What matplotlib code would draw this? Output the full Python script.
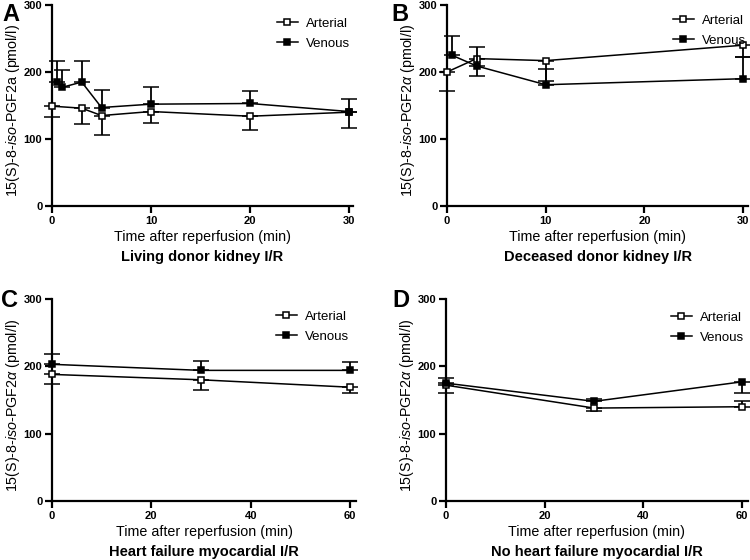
import matplotlib
matplotlib.use("Agg")
import matplotlib.pyplot as plt
from matplotlib.lines import Line2D

plt.rcParams['font.family'] = ['Liberation Sans', 'DejaVu Sans']
plt.rcParams['mathtext.fontset'] = 'custom'
plt.rcParams['mathtext.rm'] = 'Liberation Sans'
plt.rcParams['mathtext.it'] = 'Liberation Sans:italic'
plt.rcParams['mathtext.bf'] = 'Liberation Sans:bold'

# ---- Data ----
# Panel A: Living donor kidney I/R
a_art_x = [0, 3, 5, 10, 20, 30]
a_art_y = [149, 146, 135, 141, 134, 140]
a_art_lo = [16, 24, 29, 17, 21, 23]
a_art_hi = [0, 0, 0, 0, 0, 0]
a_ven_x = [0.5, 1, 3, 5, 10, 20, 30]
a_ven_y = [185, 177, 185, 147, 152, 153, 141]
a_ven_lo = [0, 0, 0, 0, 0, 0, 0]
a_ven_hi = [31, 26, 31, 26, 25, 18, 19]

# Panel B: Deceased donor kidney I/R
b_art_x = [0, 3, 10, 30]
b_art_y = [200, 220, 217, 240]
b_art_lo = [28, 26, 30, 18]
b_art_hi = [0, 0, 0, 0]
b_ven_x = [0.5, 3, 10, 30]
b_ven_y = [225, 209, 181, 190]
b_ven_lo = [0, 0, 0, 0]
b_ven_hi = [29, 29, 23, 32]

# Panel C: Heart failure myocardial I/R
c_art_x = [0, 30, 60]
c_art_y = [188, 180, 169]
c_art_lo = [14, 15, 9]
c_art_hi = [0, 0, 0]
c_ven_x = [0, 30, 60]
c_ven_y = [203, 194, 194]
c_ven_lo = [0, 0, 0]
c_ven_hi = [16, 14, 13]

# Panel D: No heart failure myocardial I/R
d_art_x = [0, 30, 60]
d_art_y = [172, 138, 140]
d_art_lo = [11, 4, 0]
d_art_hi = [0, 0, 8]
d_ven_x = [0, 30, 60]
d_ven_y = [175, 148, 177]
d_ven_lo = [0, 0, 16]
d_ven_hi = [8, 4, 0]

ylabel_a = r"15(S)-8-$\mathit{iso}$-PGF2a (pmol/l)"
ylabel_alpha = r"15(S)-8-$\mathit{iso}$-PGF2$\alpha$ (pmol/l)"
xlabel = "Time after reperfusion (min)"
series_names = ["Arterial", "Venous"]

W, H = 750, 560
panels = [
    dict(letter="A", title="Living donor kidney I/R", ylabel=ylabel_a,
         xticks=[0, 10, 20, 30], xmax=30.4,
         art=(a_art_x, a_art_y, a_art_lo, a_art_hi),
         ven=(a_ven_x, a_ven_y, a_ven_lo, a_ven_hi),
         box=(52, 5, 301, 201), lpos=(2, 3), leg=(2, 7)),
    dict(letter="B", title="Deceased donor kidney I/R", ylabel=ylabel_alpha,
         xticks=[0, 10, 20, 30], xmax=30.5,
         art=(b_art_x, b_art_y, b_art_lo, b_art_hi),
         ven=(b_ven_x, b_ven_y, b_ven_lo, b_ven_hi),
         box=(447, 5, 301, 201), lpos=(391, 3), leg=(3, 4)),
    dict(letter="C", title="Heart failure myocardial I/R", ylabel=ylabel_alpha,
         xticks=[0, 20, 40, 60], xmax=61.2,
         art=(c_art_x, c_art_y, c_art_lo, c_art_hi),
         ven=(c_ven_x, c_ven_y, c_ven_lo, c_ven_hi),
         box=(52, 299, 304, 202), lpos=(1, 289), leg=(-2, 6)),
    dict(letter="D", title="No heart failure myocardial I/R", ylabel=ylabel_alpha,
         xticks=[0, 20, 40, 60], xmax=61.2,
         art=(d_art_x, d_art_y, d_art_lo, d_art_hi),
         ven=(d_ven_x, d_ven_y, d_ven_lo, d_ven_hi),
         box=(446, 299, 302, 202), lpos=(392, 289), leg=(1, 7)),
]

fig = plt.figure(figsize=(W / 100, H / 100), dpi=100)

for p in panels:
    x0, y0, w, h = p["box"]
    ax = fig.add_axes([x0 / W, 1 - (y0 + h) / H, w / W, h / H])
    axx, axy, alo, ahi = p["art"]
    vx, vy, vlo, vhi = p["ven"]
    common = dict(color='black', lw=1.1, marker='s', ms=5, mec='black',
                  mew=1.1, ecolor='black', elinewidth=1.3, capsize=6,
                  capthick=1.3, clip_on=False)
    ax.errorbar(axx, axy, yerr=[alo, ahi], mfc='white', zorder=3, **common)
    ax.errorbar(vx, vy, yerr=[vlo, vhi], mfc='black', zorder=4, **common)
    ax.set_xlim(0, p["xmax"])
    ax.set_ylim(0, 300)
    ax.set_xticks(p["xticks"])
    ax.set_yticks([0, 100, 200, 300])
    for s in ['top', 'right']:
        ax.spines[s].set_visible(False)
    for s in ['left', 'bottom']:
        ax.spines[s].set_linewidth(1.6)
    ax.tick_params(axis='both', direction='out', length=5, width=1.6,
                   labelsize=8, pad=2)
    for lab in ax.get_xticklabels() + ax.get_yticklabels():
        lab.set_fontweight('bold')
    ax.set_ylabel(p["ylabel"], fontsize=10.3, va='center')
    ax.yaxis.set_label_coords(-39 / w, 0.5 - 5 / h)
    ax.set_xlabel(xlabel, fontsize=10.3, va='center')
    ax.xaxis.set_label_coords(0.5, -31 / h)
    ax.text(0.5, -51 / h, p["title"], transform=ax.transAxes, ha='center',
            va='center', fontsize=10.5, fontweight='bold')
    handles = [
        Line2D([], [], color='black', lw=1.1, marker='s', ms=5, mfc='white',
               mec='black', mew=1.1),
        Line2D([], [], color='black', lw=1.1, marker='s', ms=5, mfc='black',
               mec='black', mew=1.1),
    ]
    dx, dy = p["leg"]
    ax.legend(handles, series_names, loc='upper right', frameon=False,
              fontsize=9.5, handlelength=1.6, handletextpad=0.6,
              bbox_to_anchor=(1.0 + dx / w, 1.0 - dy / h), borderaxespad=0,
              labelspacing=0.6)
    fig.text(p["lpos"][0] / W, 1 - p["lpos"][1] / H, p["letter"], fontsize=17,
             fontweight='bold', va='top', ha='left')

fig.savefig("out.png", dpi=100)
